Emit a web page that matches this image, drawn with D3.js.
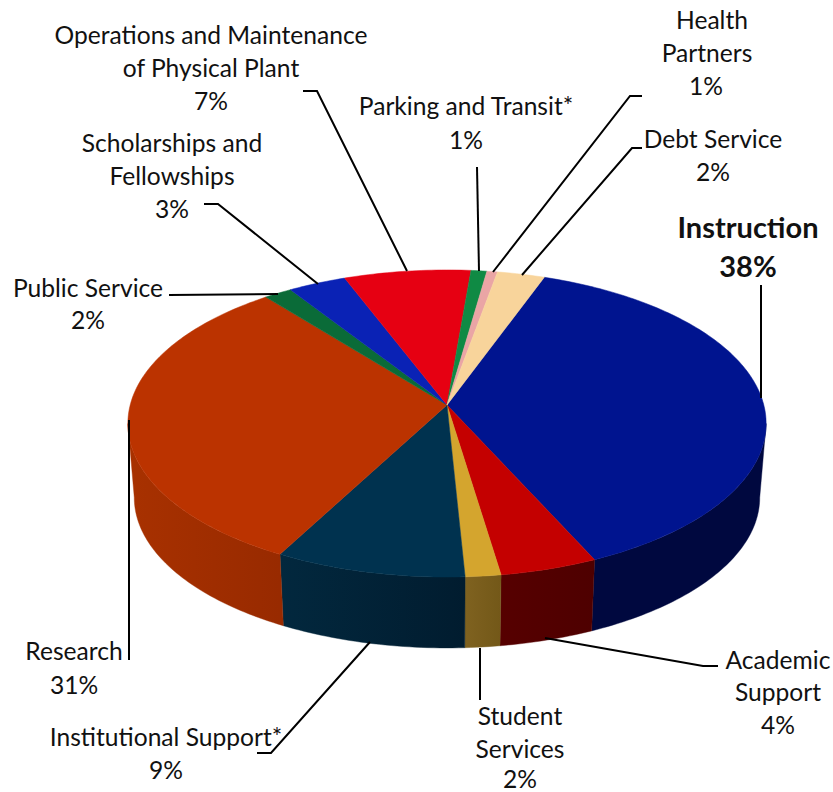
<!DOCTYPE html>
<html><head><meta charset="utf-8">
<script src="https://cdn.jsdelivr.net/npm/d3@7/dist/d3.min.js"></script>
<style>html,body{margin:0;padding:0;background:#fff}svg{display:block}text{font-family:Lato,"Open Sans",sans-serif;fill:#111}</style>
</head><body><svg id="c" width="833" height="792"></svg>
<script>
const categories=["Instruction","Academic Support","Student Services","Institutional Support*","Research","Public Service","Scholarships and Fellowships","Operations and Maintenance of Physical Plant","Parking and Transit*","Health Partners","Debt Service"];
const shares=[37.6,4.4,1.6,8.6,31.4,1.6,3.3,7.2,0.9,0.6,2.7];
const shownPercents=["38%","4%","2%","9%","31%","2%","3%","7%","1%","1%","2%"];
const topColors=["#00148f","#c40000","#d4a52e","#00324f","#bb3300","#0a6b38","#0a22b5","#e60012","#0f8a44","#eaa5a5","#f8d49b"];
const wallFrom=["#00083f","#560000","#7f6220","#02283e","#a83100","#063a20","#05105c","#7a0009","#08482a","#7a5555","#80704f"];
const wallTo=["#00083f","#4e0000","#735818","#011c2f","#982a00","#063a20","#05105c","#7a0009","#08482a","#7a5555","#80704f"];

// label layout: [line, centre x, baseline y]
const labelLayout=[
 [["Instruction",748,238],["38%",748,277]],
 [["Academic",778,669],["Support",778,701],["4%",778,734]],
 [["Student",520,725],["Services",520,758],["2%",520,788]],
 [["Institutional Support*",166,746],["9%",166,779]],
 [["Research",74,660],["31%",74,694]],
 [["Public Service",88,297],["2%",88,329]],
 [["Scholarships and",172,152],["Fellowships",172,185],["3%",172,218]],
 [["Operations and Maintenance",211,44],["of Physical Plant",211,77],["7%",211,110]],
 [["Parking and Transit*",466,115],["1%",466,149]],
 [["Health",712,29],["Partners",707,62],["1%",706,95]],
 [["Debt Service",713,148],["2%",713,181]]
];
const leaders=[
 [[761,285],[761,398]],
 [[545,638],[703,666],[718,666]],
 [[480,648],[480,700]],
 [[257,753],[271,753],[370,642]],
 [[129,660],[129,420]],
 [[169,295],[278,294]],
 [[204,204],[218,204],[318,284]],
 [[303,91],[317,91],[407,271]],
 [[477,167],[479,271]],
 [[642,96],[630,96],[493,272]],
 [[642,148],[632,148],[522,275]]
];

const svg=d3.select("#c");
const defs=svg.append("defs");
const pie=d3.pie().sort(null).value(d=>d).startAngle(20*Math.PI/180).endAngle(380*Math.PI/180);
const arcs=pie(shares);

// perspective mapping of the unit disc to the drawn ellipse
const persp=-0.1205, cx=447, apexY=405, rimA=102.5, rimK=316.8;
const project=(a,r=1)=>{
  const u=r*Math.sin(a), v=-r*Math.cos(a), w=1+persp*v;
  return [cx+rimK*u/w,(rimA*v+apexY)/w];
};
const dropScale=0.98, midY=423, dropY=74;
const lower=([x,y])=>[cx+(x-cx)*dropScale, midY+dropY+(y-midY)*dropScale];

const line=d3.line();
const stepOf=Math.PI/180;
const sample=(a0,a1)=>{const n=Math.max(2,Math.ceil((a1-a0)/stepOf));return d3.range(n+1).map(i=>a0+(a1-a0)*i/n);};

// side wall: only the front arc between the two widest rim points is visible
const frontFrom=Math.acos(persp), frontTo=2*Math.PI-Math.acos(persp);
const walls=arcs.map((d,i)=>{
  const a0=Math.max(d.startAngle,frontFrom), a1=Math.min(d.endAngle,frontTo);
  return a1>a0?{i,rim:sample(a0,a1).map(a=>project(a))}:null;
}).filter(Boolean);
walls.forEach(w=>{
  const xs=d3.extent(w.rim,p=>p[0]);
  const g=defs.append("linearGradient").attr("id","wall"+w.i).attr("gradientUnits","userSpaceOnUse")
    .attr("x1",xs[0]).attr("x2",xs[1]).attr("y1",0).attr("y2",0);
  g.append("stop").attr("offset",0).attr("stop-color",wallFrom[w.i]);
  g.append("stop").attr("offset",1).attr("stop-color",wallTo[w.i]);
});
svg.append("g").selectAll("path").data(walls).join("path")
  .attr("d",w=>line([...w.rim,...w.rim.slice().reverse().map(lower)])+"Z")
  .attr("fill",w=>`url(#wall${w.i})`)
  .attr("stroke",w=>`url(#wall${w.i})`).attr("stroke-width",0.4);

// top face
svg.append("g").selectAll("path").data(arcs).join("path")
  .attr("d",d=>line([[cx,apexY],...sample(d.startAngle,d.endAngle).map(a=>project(a))])+"Z")
  .attr("fill",(d,i)=>topColors[i])
  .attr("stroke",(d,i)=>topColors[i]).attr("stroke-width",0.5).attr("stroke-linejoin","round");

// leader lines
svg.append("g").selectAll("path").data(leaders).join("path")
  .attr("d",d=>line(d)).attr("fill","none").attr("stroke","#000").attr("stroke-width",2);

// labels
categories.forEach((c,i)=>{
  const g=svg.append("g").attr("class","label").attr("data-name",c);
  labelLayout[i].forEach((l,j)=>{
    const isLast=j===labelLayout[i].length-1;
    g.append("text").attr("x",l[1]).attr("y",l[2]).attr("text-anchor","middle")
     .attr("font-size",i===0?29:24.6).attr("font-weight",i===0?700:400)
     .text(isLast?shownPercents[i]:l[0]);
  });
});
</script></body></html>
